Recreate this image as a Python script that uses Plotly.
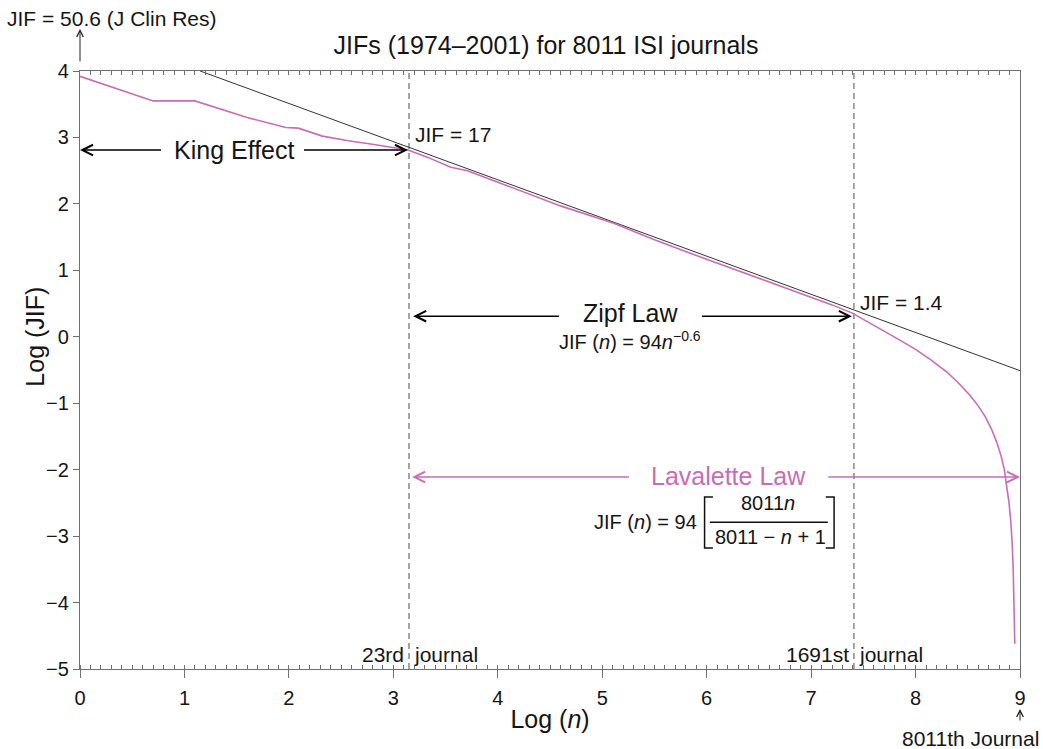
import plotly.graph_objects as go

# ---------------- data ----------------
log_n = [0.00, 0.70, 1.10, 1.60, 1.97, 2.09, 2.32, 2.57, 2.83, 3.14, 3.33, 3.55,
         3.71, 3.96, 4.30, 4.60, 5.11, 5.50, 5.94, 6.40, 6.90, 7.20, 7.39, 7.55,
         7.70, 7.85, 8.00, 8.15, 8.30, 8.42, 8.52, 8.60, 8.67, 8.73, 8.78, 8.82,
         8.85, 8.875, 8.895, 8.91, 8.925, 8.935, 8.943, 8.95]
log_jif = [3.92, 3.55, 3.55, 3.30, 3.15, 3.14, 3.02, 2.95, 2.89, 2.81, 2.70, 2.55,
           2.50, 2.35, 2.15, 1.97, 1.71, 1.46, 1.20, 0.94, 0.65, 0.48, 0.36, 0.22,
           0.09, -0.05, -0.19, -0.35, -0.53, -0.71, -0.88, -1.04, -1.21, -1.40, -1.60, -1.80,
           -2.00, -2.25, -2.50, -2.75, -3.10, -3.50, -4.00, -4.62]

zipf_x = [1.15, 9.0]
zipf_y = [4.0, -0.51]

cutoff_x = [3.15, 7.41]          # 23rd and 1691st journal
cutoff_low = [-5, -5]
cutoff_high = [4, 4]
cutoff_left = ["23rd", "1691st"]

x_range = [0, 9]
y_range = [-5, 4]
x_ticks = [0, 1, 2, 3, 4, 5, 6, 7, 8, 9]
y_ticks = [4, 3, 2, 1, 0, -1, -2, -3, -4, -5]

king_y = 2.81
zipf_arrow_y = 0.31
lav_y = -2.11

PINK = "#c86cb8"
FONT = "Liberation Sans, Arial, Helvetica, sans-serif"
AXC = "#707070"
TXT = "#151515"

fig = go.Figure()

# dashed cut-off lines
dx, dy = [], []
for cx, lo, hi in zip(cutoff_x, cutoff_low, cutoff_high):
    dx += [cx, cx, None]
    dy += [lo, hi, None]
fig.add_trace(go.Scatter(x=dx, y=dy, mode="lines",
                         line=dict(color="#6a6a6a", width=1.2, dash="6px,4px"),
                         hoverinfo="skip", showlegend=False))

# Zipf straight line
fig.add_trace(go.Scatter(x=zipf_x, y=zipf_y, mode="lines",
                         line=dict(color="#333333", width=1),
                         name="Zipf", showlegend=False))

# JIF curve
fig.add_trace(go.Scatter(x=log_n, y=log_jif, mode="lines",
                         line=dict(color=PINK, width=1.6),
                         name="JIF", showlegend=False))

# dummy trace for the top axis
fig.add_trace(go.Scatter(x=[0], y=[None], xaxis="x2", mode="lines",
                         hoverinfo="skip", showlegend=False))

ann = []


def arrow(x, y, ax, ay, color="black", width=1.5, size=1.4):
    ann.append(dict(x=x, y=y, ax=ax, ay=ay, xref="x", yref="y", axref="x", ayref="y",
                    text="", showarrow=True, arrowhead=5, arrowsize=size,
                    arrowwidth=width, arrowcolor=color, standoff=0, startstandoff=0))


def label(x, y, text, size=21, color=TXT, xanchor="center", yanchor="middle",
          xref="x", yref="y", angle=0):
    ann.append(dict(x=x, y=y, xref=xref, yref=yref, text=text, showarrow=False,
                    font=dict(family=FONT, size=size, color=color), textangle=angle,
                    xanchor=xanchor, yanchor=yanchor))


# King effect
arrow(0.0, king_y, 0.79, king_y)
arrow(cutoff_x[0] - 0.01, king_y, 2.13, king_y)
label(1.48, king_y, "King Effect", size=25)

# Zipf law
arrow(cutoff_x[0] + 0.04, zipf_arrow_y, 4.60, zipf_arrow_y)
arrow(cutoff_x[1] - 0.02, zipf_arrow_y, 5.94, zipf_arrow_y)
label(5.27, 0.36, "Zipf Law", size=25)
label(5.27, -0.06, "JIF (<i>n</i>) = 94<i>n</i><sup>\u22120.6</sup>", size=20)

# Lavalette law
arrow(cutoff_x[0] + 0.03, lav_y, 5.27, lav_y, color=PINK)
arrow(9.0, lav_y, 7.15, lav_y, color=PINK)
label(6.21, -2.10, "Lavalette Law", size=25, color=PINK)
label(5.93, -2.79, "JIF (<i>n</i>) = 94", size=20, xanchor="right")
label(6.59, -2.50, "8011<i>n</i>", size=20)
label(6.61, -3.01, "8011 \u2212 <i>n</i> + 1", size=20)

# point labels
label(3.19, 3.04, "JIF = 17", xanchor="left")
label(7.45, 0.52, "JIF = 1.4", xanchor="left")
for cx, name in zip(cutoff_x, cutoff_left):
    label(cx - 0.03, -4.78, name, xanchor="right")
    label(cx + 0.03, -4.78, "journal", xanchor="left")

# y-axis title (centred on Log JIF = 0 as in the reference)
label(-0.048, 0, "Log (JIF)", size=25, xref="paper", angle=-90)

# top-left arrow + label (outside the plot -> paper coordinates)
ann.append(dict(x=0, y=1.0703, xref="paper", yref="paper", ax=0, ay=34,
                text="", showarrow=True, arrowhead=5, arrowsize=1.3, arrowwidth=1,
                arrowcolor="#222222", standoff=0, startstandoff=0))
label(0.034, 1.088, "JIF = 50.6 (J Clin Res)", xref="paper", yref="paper")

# bottom-right arrow + label
ann.append(dict(x=1.0, y=-0.0669, xref="paper", yref="paper", ax=0, ay=13,
                text="", showarrow=True, arrowhead=5, arrowsize=1.3, arrowwidth=1,
                arrowcolor="#222222", standoff=0, startstandoff=0))
label(1.0223, -0.1154, "8011th Journal", xref="paper", yref="paper", xanchor="right")

shapes = []
line_style = dict(color="#111111", width=1.5)
# fraction bar
shapes.append(dict(type="line", xref="x", yref="y", x0=6.03, x1=7.16, y0=-2.79, y1=-2.79,
                   line=line_style))
# brackets
shapes.append(dict(type="path", xref="x", yref="y",
                   path="M 6.06,-2.41 L 5.98,-2.41 L 5.98,-3.18 L 6.06,-3.18",
                   line=line_style))
shapes.append(dict(type="path", xref="x", yref="y",
                   path="M 7.14,-2.41 L 7.22,-2.41 L 7.22,-3.18 L 7.14,-3.18",
                   line=line_style))

fig.update_layout(
    width=1043, height=749,
    margin=dict(l=80, r=23, t=71, b=80),
    paper_bgcolor="white", plot_bgcolor="white",
    font=dict(family=FONT, color=TXT),
    title=dict(text="JIFs (1974\u20132001) for 8011 ISI journals",
               font=dict(family=FONT, size=25, color=TXT),
               x=0.5235, xref="container", xanchor="center",
               y=1 - 45 / 749, yref="container", yanchor="middle"),
    xaxis=dict(range=x_range, tickvals=x_ticks, showgrid=False, zeroline=False,
               showline=True, linecolor=AXC, linewidth=1.2,
               ticks="outside", ticklen=8, tickcolor=AXC, tickwidth=1.2,
               ticklabelstandoff=3,
               tickfont=dict(size=20, family=FONT, color=TXT),
               minor=dict(dtick=0.1, tick0=0, ticks="inside", ticklen=4,
                          tickcolor=AXC, tickwidth=1, showgrid=False),
               title=dict(text="Log (<i>n</i>)", font=dict(size=25, family=FONT, color=TXT),
                          standoff=2),
               automargin=False),
    xaxis2=dict(range=x_range, overlaying="x", side="top", showgrid=False,
                zeroline=False, showline=True, linecolor=AXC, linewidth=1.2,
                showticklabels=False, tick0=0, dtick=0.1, ticks="inside",
                ticklen=4, tickcolor=AXC, tickwidth=1),
    yaxis=dict(range=y_range, tickvals=y_ticks, showgrid=False, zeroline=False,
               showline=True, linecolor=AXC, linewidth=1.2, mirror=True,
               ticks="outside", ticklen=6, tickcolor=AXC, tickwidth=1.2,
               tickfont=dict(size=20, family=FONT, color=TXT),
               automargin=False),
    annotations=ann,
    shapes=shapes,
    showlegend=False,
)

fig.write_html("out.html", config={"displayModeBar": False},
               post_script="document.body.style.margin='0';")
